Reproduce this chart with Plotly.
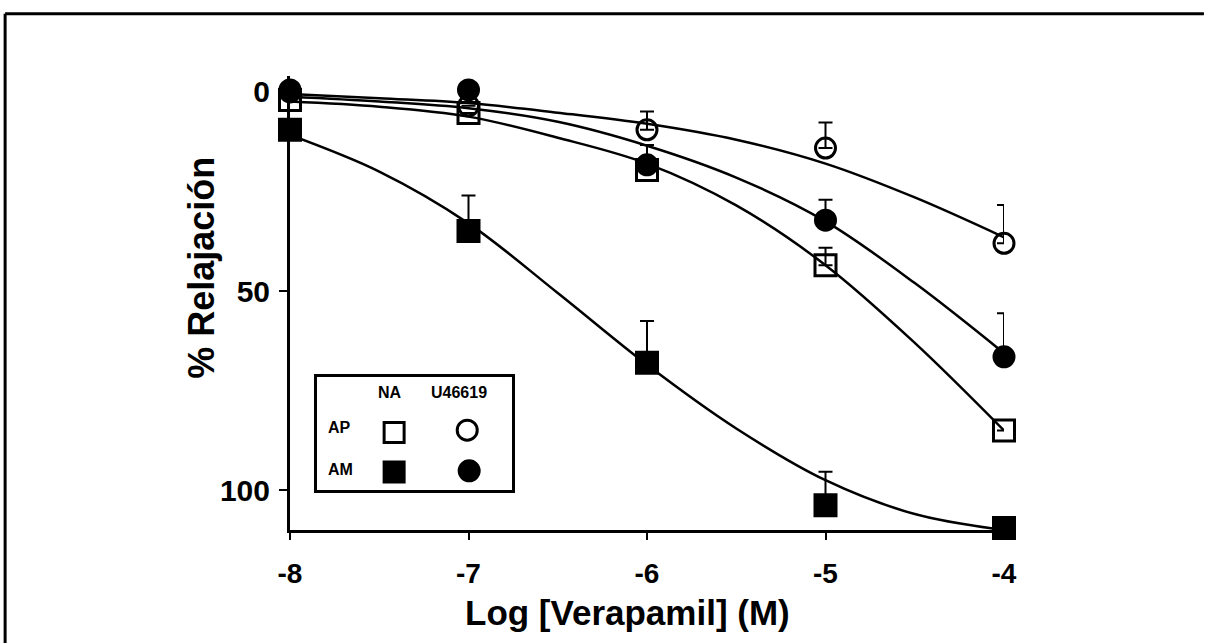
import plotly.graph_objs as go

# log [Verapamil] (M)
log_conc = [-8, -7, -6, -5, -4]

# % relaxation, mean and (one-sided) SEM
ap_na = [2.0, 5.3, 19.6, 43.5, 85.0]
ap_na_err = [0, 0, 0, 4.4, 0]
ap_u46619 = [0.0, 3.5, 9.5, 14.1, 38.0]
ap_u46619_err = [0, 0, 4.6, 6.4, 9.6]
am_na = [9.5, 34.9, 68.0, 103.8, 109.5]
am_na_err = [0, 8.9, 10.5, 8.4, 0]
am_u46619 = [-0.5, -0.5, 18.3, 32.2, 66.5]
am_u46619_err = [0, 0, 5.0, 5.1, 10.9]

# fitted curves, sampled from the figure every half log unit
curve_x = [-8, -7.5, -7, -6.5, -6, -5.5, -5, -4.5, -4]
ap_na_fit = [2.4, 3.7, 6.2, 11.5, 18.0, 28.5, 43.5, 63.0, 85.0]
ap_u46619_fit = [0.5, 1.6, 2.8, 5.2, 8.0, 12.0, 18.0, 26.5, 36.5]
am_na_fit = [10.8, 20.0, 33.0, 50.5, 68.5, 84.5, 97.5, 106.0, 110.0]
am_u46619_fit = [1.2, 2.4, 4.1, 7.5, 13.5, 21.5, 32.5, 48.0, 65.6]

FONT = "Liberation Sans, Arial, sans-serif"
BLACK = "black"

fig = go.Figure()

# Fitted curves
for fit in [ap_u46619_fit, am_u46619_fit, ap_na_fit, am_na_fit]:
    fig.add_trace(go.Scatter(
        x=curve_x, y=fit, mode='lines', line=dict(color=BLACK, width=2.5, shape='spline', smoothing=1.0),
        cliponaxis=False, hoverinfo='skip'
    ))

# Data points with one-sided error bars (towards less relaxation)
series = [
    (ap_na, ap_na_err, 'square-open', 21),
    (ap_u46619, ap_u46619_err, 'circle-open', 20),
    (am_u46619, am_u46619_err, 'circle', 20),
    (am_na, am_na_err, 'square', 21),
]
for values, errs, symbol, size in series:
    fig.add_trace(go.Scatter(
        x=log_conc, y=values, mode='markers', cliponaxis=False,
        marker=dict(symbol=symbol, size=size, color=BLACK, line=dict(color=BLACK, width=3)),
        error_y=dict(type='data', symmetric=False, array=[0] * len(errs), arrayminus=errs,
                     color=BLACK, thickness=2, width=7),
    ))

# Inset key (drawn on its own small axes)
key_marks = [
    (0.395, 0.51, 'square-open'),
    (0.77, 0.53, 'circle-open'),
    (0.395, 0.16, 'square'),
    (0.78, 0.17, 'circle'),
]
for kx, ky, symbol in key_marks:
    fig.add_trace(go.Scatter(
        x=[kx], y=[ky], xaxis='x2', yaxis='y2', mode='markers',
        marker=dict(symbol=symbol, size=20, color=BLACK, line=dict(color=BLACK, width=3)),
    ))

key_text = [(0.374, 0.86, 'NA'), (0.73, 0.86, 'U46619'), (0.113, 0.55, 'AP'), (0.118, 0.18, 'AM')]
annotations = [
    dict(x=kx, y=ky, xref='x2', yref='y2', text=t, showarrow=False, xanchor='center', yanchor='middle',
         font=dict(family=FONT, size=16, color=BLACK, weight='bold'))
    for kx, ky, t in key_text
]

# Axis titles
annotations.append(dict(x=0.472, y=-0.181, xref='paper', yref='paper', text='Log [Verapamil] (M)',
                        xanchor='center', yanchor='middle', showarrow=False,
                        font=dict(family=FONT, size=35, color=BLACK, weight='bold')))
annotations.append(dict(x=-0.125, y=0.577, xref='paper', yref='paper', text='% Relajación', textangle=-90,
                        xanchor='center', yanchor='middle', showarrow=False,
                        font=dict(family=FONT, size=36, color=BLACK, weight='bold')))

# Scanned page frame (top and left edges)
shapes = [
    dict(type='line', xref='paper', yref='paper', x0=-0.399, x1=1.28, y0=1.137, y1=1.137,
         line=dict(color=BLACK, width=3)),
    dict(type='line', xref='paper', yref='paper', x0=-0.399, x1=-0.399, y0=1.137, y1=-0.28,
         line=dict(color=BLACK, width=3)),
]

fig.update_layout(
    width=1207, height=643,
    margin=dict(l=290, r=203, t=76, b=113),
    paper_bgcolor='white', plot_bgcolor='white',
    showlegend=False,
    annotations=annotations,
    shapes=shapes,
    xaxis=dict(
        range=[-8, -4], tickvals=log_conc, ticktext=['-8', '-7', '-6', '-5', '-4'],
        showline=True, linecolor=BLACK, linewidth=3, showgrid=False, zeroline=False,
        ticks='outside', ticklen=7, tickwidth=2, tickcolor=BLACK, ticklabelstandoff=9,
        tickfont=dict(family=FONT, size=28, color=BLACK, weight='bold'),
    ),
    yaxis=dict(
        range=[110, -4], tickvals=[0, 50, 100],
        showline=True, linecolor=BLACK, linewidth=3, showgrid=False, zeroline=False,
        ticks='outside', ticklen=8, tickwidth=2, tickcolor=BLACK, ticklabelstandoff=3,
        tickfont=dict(family=FONT, size=30, color=BLACK, weight='bold'),
    ),
    xaxis2=dict(
        domain=[0.038, 0.311], range=[0, 1], anchor='y2',
        showline=True, mirror=True, linecolor=BLACK, linewidth=3,
        showgrid=False, zeroline=False, showticklabels=False, ticks='',
    ),
    yaxis2=dict(
        domain=[0.088, 0.337], range=[0, 1], anchor='x2',
        showline=True, mirror=True, linecolor=BLACK, linewidth=3,
        showgrid=False, zeroline=False, showticklabels=False, ticks='',
    ),
)

# drop the browser's default page margin so the figure sits at the window corner
fig.write_html("out.html", config={'displayModeBar': False},
               post_script="document.body.style.margin = '0'; document.body.style.overflow = 'hidden';")
